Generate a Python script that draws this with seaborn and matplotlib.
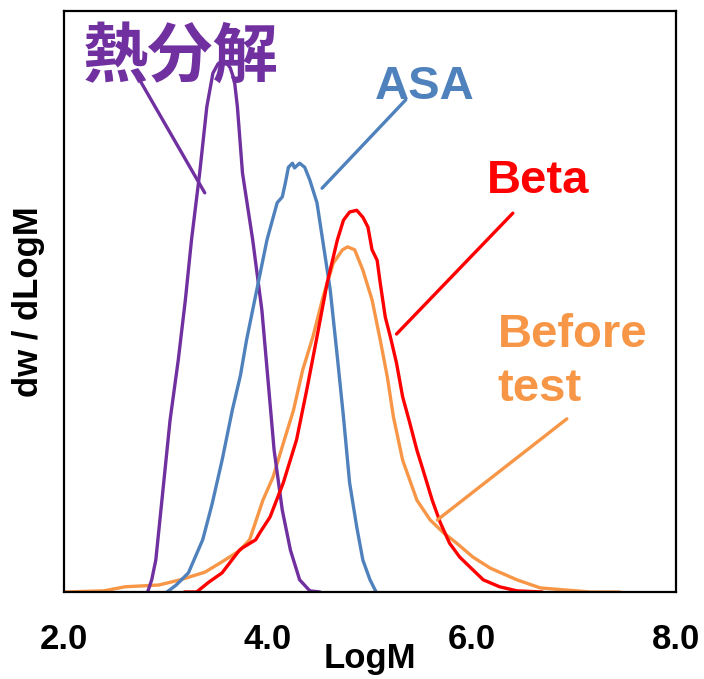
import matplotlib
matplotlib.use("Agg")
import matplotlib.pyplot as plt
import pandas as pd
import seaborn as sns

# LogM / dw/dLogM (y normalised: 1.0 = top of frame)
pyro_x = [2.82, 2.86, 2.90, 2.96, 3.04, 3.12, 3.19, 3.25, 3.33, 3.40, 3.46, 3.51, 3.55, 3.59,
          3.63, 3.67, 3.70, 3.75, 3.85, 3.94, 4.00, 4.06, 4.14, 4.22, 4.31, 4.41, 4.51]
pyro_y = [0.000, 0.021, 0.055, 0.158, 0.296, 0.399, 0.503, 0.606, 0.721, 0.835, 0.893, 0.909,
          0.914, 0.912, 0.902, 0.881, 0.835, 0.721, 0.606, 0.485, 0.365, 0.244, 0.141, 0.072,
          0.021, 0.002, 0.000]

asa_x = [3.01, 3.10, 3.22, 3.36, 3.45, 3.55, 3.65, 3.73, 3.79, 3.89, 3.99, 4.09, 4.14, 4.17,
         4.20, 4.24, 4.26, 4.31, 4.36, 4.41, 4.48, 4.54, 4.61, 4.68, 4.74, 4.80, 4.87, 4.93,
         5.00, 5.06]
asa_y = [0.000, 0.012, 0.033, 0.090, 0.150, 0.227, 0.313, 0.373, 0.434, 0.520, 0.606, 0.670,
         0.680, 0.704, 0.731, 0.738, 0.730, 0.738, 0.731, 0.709, 0.670, 0.601, 0.520, 0.404,
         0.301, 0.188, 0.112, 0.055, 0.021, 0.000]

beta_x = [3.18, 3.30, 3.42, 3.55, 3.72, 3.75, 3.88, 3.92, 4.02, 4.15, 4.28, 4.38, 4.48, 4.58,
          4.68, 4.74, 4.80, 4.87, 4.93, 4.98, 5.02, 5.07, 5.10, 5.15, 5.20, 5.26, 5.32, 5.39,
          5.46, 5.52, 5.61, 5.69, 5.78, 5.88, 5.98, 6.11, 6.27, 6.44, 6.69]
beta_y = [0.000, 0.000, 0.017, 0.033, 0.072, 0.076, 0.090, 0.102, 0.129, 0.188, 0.262, 0.348,
          0.439, 0.532, 0.606, 0.640, 0.654, 0.657, 0.645, 0.628, 0.589, 0.571, 0.532, 0.473,
          0.439, 0.394, 0.336, 0.291, 0.244, 0.210, 0.158, 0.119, 0.084, 0.060, 0.043, 0.021,
          0.009, 0.002, 0.000]

before_x = [2.00, 2.39, 2.60, 2.93, 3.14, 3.38, 3.55, 3.72, 3.82, 3.95, 4.05, 4.15, 4.25, 4.34,
            4.44, 4.54, 4.64, 4.73, 4.78, 4.85, 4.93, 5.02, 5.10, 5.17, 5.23, 5.32, 5.46, 5.59,
            5.72, 5.85, 6.01, 6.18, 6.44, 6.67, 7.16, 7.45]
before_y = [0.000, 0.002, 0.009, 0.012, 0.021, 0.034, 0.052, 0.071, 0.090, 0.158, 0.198, 0.256,
            0.313, 0.382, 0.439, 0.508, 0.566, 0.589, 0.594, 0.589, 0.554, 0.503, 0.434, 0.370,
            0.301, 0.227, 0.158, 0.124, 0.102, 0.084, 0.060, 0.041, 0.021, 0.007, 0.000, 0.000]

series = ["熱分解", "ASA", "Beta", "Before\ntest"]
colors = ["#7030A0", "#4F81BD", "#FF0000", "#F79646"]
xticks = [2.0, 4.0, 6.0, 8.0]

df = pd.concat([
    pd.DataFrame({"LogM": pyro_x, "dw": pyro_y, "sample": series[0]}),
    pd.DataFrame({"LogM": asa_x, "dw": asa_y, "sample": series[1]}),
    pd.DataFrame({"LogM": beta_x, "dw": beta_y, "sample": series[2]}),
    pd.DataFrame({"LogM": before_x, "dw": before_y, "sample": series[3]}),
])

sns.set_style("white")
plt.rcParams["font.family"] = ["Liberation Sans", "Noto Sans CJK JP", "DejaVu Sans"]
plt.rcParams["text.color"] = "black"
plt.rcParams["axes.labelcolor"] = "black"
plt.rcParams["xtick.color"] = "black"

fig = plt.figure(figsize=(7.04, 6.79), dpi=100)
ax = fig.add_axes([64 / 704, 87 / 679, 612 / 704, 581 / 679])

# draw the orange one first so it sits under the others
order = [series[3], series[0], series[1], series[2]]
for name in order:
    sns.lineplot(data=df[df["sample"] == name], x="LogM", y="dw", color=colors[series.index(name)],
                 lw=2.4, estimator=None, sort=False, ax=ax, legend=False)

ax.set_xlim(2.0, 8.0)
ax.set_ylim(0, 1.0)
ax.set_xticks(xticks)
ax.set_xticklabels([f"{t:.1f}" for t in xticks], fontsize=25, fontweight="bold")
ax.set_yticks([])
ax.tick_params(axis="x", direction="in", length=7, width=1.5, pad=22)
for sp in ax.spines.values():
    sp.set_color("black")
    sp.set_linewidth(1.6)

ax.set_xlabel("LogM", fontsize=25, fontweight="bold", labelpad=-10)
ax.set_ylabel("dw / dLogM", fontsize=25, fontweight="bold", labelpad=14)

# labels and leader lines
ax.text(3.14, 0.921, series[0], color=colors[0], fontsize=47, fontweight="bold",
        ha="center", va="center", family=["Noto Sans CJK JP"])
ax.plot([2.73, 3.38], [0.885, 0.687], color=colors[0], lw=2.4)

ax.text(5.54, 0.849, series[1], color=colors[1], fontsize=34, fontweight="bold",
        ha="center", va="baseline")
ax.plot([5.35, 4.53], [0.847, 0.695], color=colors[1], lw=2.4)

ax.text(6.65, 0.687, series[2], color=colors[2], fontsize=34, fontweight="bold",
        ha="center", va="baseline")
ax.plot([6.40, 5.26], [0.652, 0.444], color=colors[2], lw=2.4)

ax.text(6.25, 0.396, series[3], color=colors[3], fontsize=34, fontweight="bold",
        ha="left", va="center", linespacing=1.3)
ax.plot([6.93, 5.66], [0.298, 0.124], color=colors[3], lw=2.4)

fig.savefig("out.png", dpi=100)
plt.close(fig)
